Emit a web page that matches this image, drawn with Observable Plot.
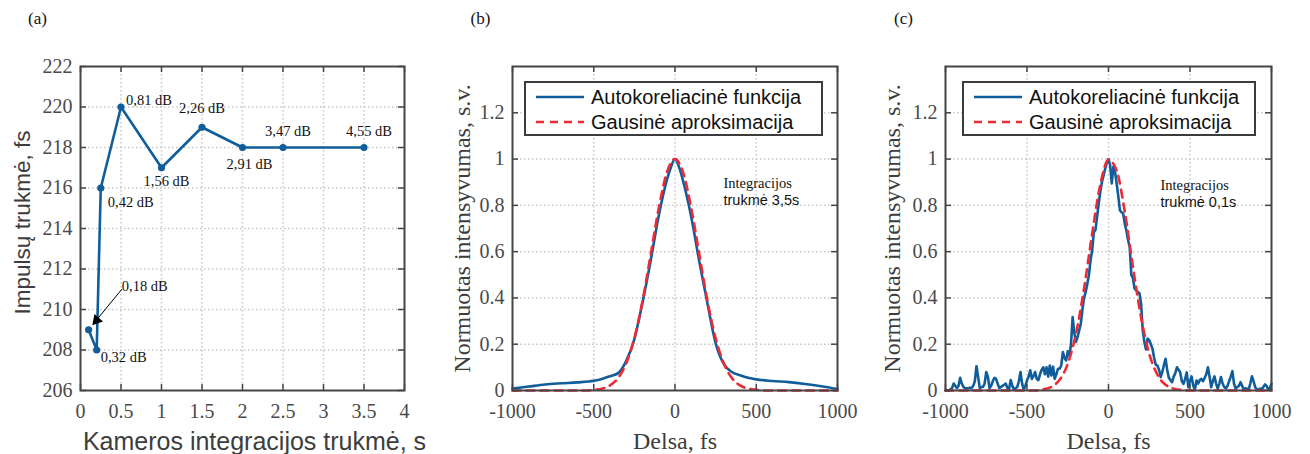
<!DOCTYPE html>
<html>
<head>
<meta charset="utf-8">
<script src="https://cdn.jsdelivr.net/npm/d3@7"></script>
<script src="https://cdn.jsdelivr.net/npm/@observablehq/plot@0.6"></script>
<style>
  html, body { margin: 0; padding: 0; background: #fff; }
  body { width: 1310px; height: 454px; position: relative; overflow: hidden; }
  .panel { position: absolute; top: 0; }
  .legend { position: absolute; border: 2px solid #3c3c3c; background: #fff; box-sizing: border-box;
            font-family: "Liberation Sans", Arial, sans-serif; font-size: 20px; color: #111; }
  .legend .row { position: absolute; left: 0; right: 0; height: 24px; line-height: 24px; }
  .legend svg { position: absolute; left: 10px; top: 10px; }
  .legend span { position: absolute; left: 65px; top: 0; white-space: nowrap; }
</style>
</head>
<body>
<script>
// ---------- Panel (a) data ----------
const integTime = [0.1, 0.2, 0.25, 0.5, 1, 1.5, 2, 2.5, 3.5];
const pulseDur  = [209, 208, 216, 220, 217, 219, 218, 218, 218];
const snrLabels = ["0,18 dB", "0,32 dB", "0,42 dB", "0,81 dB", "1,56 dB", "2,26 dB", "2,91 dB", "3,47 dB", "4,55 dB"];
const arrowTail = {x: 0.51, y: 211.0};   // annotation anchor of the "0,18 dB" callout
const xTicksA = [0, 0.5, 1, 1.5, 2, 2.5, 3, 3.5, 4];
const yTicksA = [206, 208, 210, 212, 214, 216, 218, 220, 222];

// ---------- Panel (b) data : integration time 3.5 s ----------
const delaysB = [-1000, -900, -800, -700, -600, -500, -450, -400, -350, -300, -250, -200, -150, -100, -50, -25, 0,
                 25, 50, 100, 150, 200, 250, 300, 350, 400, 450, 500, 600, 700, 800, 900, 1000];
const autoB   = [0.008, 0.017, 0.026, 0.031, 0.035, 0.042, 0.05, 0.062, 0.075, 0.128, 0.222, 0.38, 0.56, 0.755, 0.91, 0.965, 1.0,
                 0.965, 0.905, 0.75, 0.555, 0.375, 0.205, 0.115, 0.08, 0.066, 0.055, 0.048, 0.041, 0.036, 0.028, 0.018, 0.006];
const gaussDelays = [-1000, -950, -900, -850, -800, -750, -700, -650, -600, -550,
                     -500, -450, -400, -350, -300, -250, -200, -150, -100, -50, 0,
                     50, 100, 150, 200, 250, 300, 350, 400, 450, 500,
                     550, 600, 650, 700, 750, 800, 850, 900, 950, 1000];
const gaussB = [0, 0, 0, 0, 0, 0, 0, 0, 0, 0,
                0.003, 0.008, 0.022, 0.054, 0.118, 0.226, 0.386, 0.586, 0.788, 0.942, 1,
                0.942, 0.788, 0.586, 0.386, 0.226, 0.118, 0.054, 0.022, 0.008, 0.003,
                0, 0, 0, 0, 0, 0, 0, 0, 0, 0];

// ---------- Panel (c) data : integration time 0.1 s (samples every 10 fs from -1000 to 1000) ----------
const delaysC = d3.range(-1000, 1001, 10);
const autoC = [
  0, 0, 0, 0.005, 0.01, 0.03, 0.02, 0.01, 0.02, 0.055,
  0.03, 0.015, 0.01, 0.01, 0.01, 0.012, 0.01, 0.02, 0.04, 0.105,
  0.06, 0.01, 0.015, 0.015, 0.03, 0.08, 0.06, 0.01, 0.02, 0.04,
  0.055, 0.05, 0.03, 0.01, 0.015, 0.02, 0.025, 0.03, 0.01, 0.005,
  0.045, 0.02, 0.005, 0.01, 0.015, 0.04, 0.08, 0.03, 0.005, 0.02,
  0.043, 0.06, 0.087, 0.05, 0.062, 0.08, 0.05, 0.045, 0.07, 0.09,
  0.1, 0.07, 0.1, 0.06, 0.108, 0.065, 0.103, 0.05, 0.07, 0.094,
  0.094, 0.108, 0.166, 0.14, 0.13, 0.17, 0.15, 0.2, 0.317, 0.25,
  0.21, 0.23, 0.26, 0.288, 0.35, 0.4, 0.426, 0.46, 0.5, 0.563,
  0.606, 0.685, 0.693, 0.75, 0.808, 0.86, 0.902, 0.93, 0.96, 0.985,
  1.0, 0.974, 0.895, 0.967, 0.945, 0.895, 0.84, 0.779, 0.77, 0.765,
  0.72, 0.69, 0.65, 0.62, 0.5, 0.485, 0.44, 0.433, 0.426, 0.42,
  0.375, 0.26, 0.21, 0.177, 0.224, 0.217, 0.2, 0.18, 0.14, 0.112,
  0.108, 0.09, 0.058, 0.08, 0.11, 0.137, 0.09, 0.055, 0.045, 0.036,
  0.06, 0.075, 0.1, 0.09, 0.078, 0.04, 0.029, 0.05, 0.078, 0.014,
  0.04, 0.061, 0.02, 0.003, 0.043, 0.03, 0.045, 0.05, 0.04, 0.055,
  0.07, 0.1, 0.06, 0.014, 0.04, 0.061, 0.03, 0.008, 0.03, 0.058,
  0.03, 0.015, 0.008, 0.02, 0.04, 0.06, 0.084, 0.03, 0.008, 0.015,
  0.02, 0.036, 0.02, 0.003, 0.01, 0.008, 0.005, 0.03, 0.061, 0.04,
  0.014, 0.005, 0.003, 0.008, 0.005, 0.015, 0.026, 0.02, 0.003, 0.01,
  0.03
];
const gaussC = [0, 0, 0, 0, 0, 0, 0, 0, 0, 0, 0, 0,
                0.005, 0.016, 0.046, 0.115, 0.244, 0.441, 0.679, 0.891, 0.997,
                0.95, 0.772, 0.534, 0.315, 0.159, 0.068, 0.025, 0.008, 0.002,
                0, 0, 0, 0, 0, 0, 0, 0, 0, 0, 0];

const xTicksBC = [-1000, -500, 0, 500, 1000];
const yTicksBC = [0, 0.2, 0.4, 0.6, 0.8, 1, 1.2];
const legendNames = ["Autokoreliacinė funkcija", "Gausinė aproksimacija"];

// ---------- styles ----------
const blue = "#0f5e9b", red = "#ee2a35";
const serif = "'Liberation Serif','Times New Roman',serif";
const sans = "'Liberation Sans',Arial,sans-serif";
const gridStyle = {stroke: "#c6c6c6", strokeOpacity: 1, strokeWidth: 1.5, strokeDasharray: "1.5,2.5"};
const tickStyle = {stroke: "#454545", strokeWidth: 1.5};
const fmt = d => String(d);

function panel(o) {
  const height = 454, mt = 66, mb = 64;
  const innerW = o.width - o.ml - o.mr, innerH = height - mt - mb;
  const tickText = {fontFamily: serif, fontSize: 20, fill: "#4a4a4a", label: null, tickFormat: fmt, tickSize: 0};
  const chart = Plot.plot({
    width: o.width, height,
    marginLeft: o.ml, marginRight: o.mr, marginTop: mt, marginBottom: mb,
    style: {background: "transparent", overflow: "visible"},
    x: {domain: o.xDomain},
    y: {domain: o.yDomain},
    marks: [
      Plot.gridX(o.xGrid, gridStyle),
      Plot.gridY(o.yGrid, gridStyle),
      ...o.marks,
      Plot.tickX(o.xTicks, {x: d => d, insetTop: innerH - 6, ...tickStyle}),
      Plot.tickX(o.xTicks, {x: d => d, insetBottom: innerH - 6, ...tickStyle}),
      Plot.tickY(o.yTicks, {y: d => d, insetRight: innerW - 6, ...tickStyle}),
      Plot.tickY(o.yTicks, {y: d => d, insetLeft: innerW - 6, ...tickStyle}),
      Plot.axisX(o.xTicks, {anchor: "bottom", tickPadding: 13, ...tickText}),
      Plot.axisY(o.yTicks, {anchor: "left", tickPadding: 8, ...tickText}),
      Plot.text([o.yTitle], {frameAnchor: "left", rotate: -90, dx: o.yTitleDx, dy: o.yTitleDy || 0, text: d => d,
        fontFamily: o.titleFont, fontSize: o.yTitleSize, fill: "#3d3d3d", textAnchor: "middle", lineAnchor: "middle"}),
      Plot.text([o.xTitle], {frameAnchor: "bottom", dx: o.xTitleDx || 0, dy: 51, text: d => d,
        fontFamily: o.titleFont, fontSize: o.xTitleSize, fill: "#3d3d3d", textAnchor: "middle", lineAnchor: "middle"}),
      Plot.text([o.tag], {frameAnchor: "top-left", dx: o.tagDx, dy: -48, text: d => d,
        fontFamily: serif, fontSize: 17, fill: "#111", textAnchor: "middle", lineAnchor: "middle"}),
      Plot.frame({stroke: "#454545", strokeWidth: 2})
    ]
  });
  const div = document.createElement("div");
  div.className = "panel";
  div.style.left = o.left + "px";
  div.style.width = o.width + "px";
  div.appendChild(chart);
  document.body.appendChild(div);
}

function legend(left, top, width) {
  const box = document.createElement("div");
  box.className = "legend";
  Object.assign(box.style, {left: left + "px", top: top + "px", width: width + "px", height: "55px"});
  legendNames.forEach((name, i) => {
    const row = document.createElement("div");
    row.className = "row";
    row.style.top = (i === 0 ? 2 : 27) + "px";
    const dash = i === 0 ? "" : ' stroke-dasharray="8,6"';
    const col = i === 0 ? blue : red;
    row.innerHTML = `<svg width="50" height="4"><line x1="0" y1="2" x2="48" y2="2" stroke="${col}" stroke-width="2.5"${dash}/></svg><span>${name}</span>`;
    box.appendChild(row);
  });
  document.body.appendChild(box);
}

// ---------- Panel (a) ----------
const place = [null, [4, 7, "start"], [7, 14, "start"], [5, -7, "start"], [5, 14, "middle"],
               [0, -19, "middle"], [7, 17, "middle"], [5, -16, "middle"], [5, -16, "middle"]];
const labelMarks = place.map((p, i) => p && Plot.text([i], {
  x: j => integTime[j], y: j => pulseDur[j], text: j => snrLabels[j],
  dx: p[0], dy: p[1], textAnchor: p[2], fontFamily: serif, fontSize: 14.5, fill: "#111"
})).filter(Boolean);

panel({
  left: 0, width: 430, ml: 80, mr: 26,
  xDomain: [0, 4], yDomain: [206, 222],
  xTicks: xTicksA, yTicks: yTicksA,
  xGrid: xTicksA.slice(1, -1), yGrid: yTicksA.slice(1, -1),
  titleFont: sans,
  yTitle: "Impulsų trukmė, fs", yTitleSize: 22.5, yTitleDx: -58, yTitleDy: -6,
  xTitle: "Kameros integracijos trukmė, s", xTitleSize: 25, xTitleDx: 12,
  tag: "(a)", tagDx: -43,
  marks: [
    Plot.line(integTime, {x: integTime, y: pulseDur, stroke: blue, strokeWidth: 2.6}),
    Plot.dot(integTime, {x: integTime, y: pulseDur, r: 3.6, fill: blue}),
    ...labelMarks,
    Plot.arrow([0], {x1: () => arrowTail.x, y1: () => arrowTail.y, x2: i => integTime[i], y2: i => pulseDur[i],
      insetEnd: 14, headLength: 0, stroke: "#000", strokeWidth: 1}),
    Plot.dot([0], {x: i => integTime[i], y: i => pulseDur[i], symbol: "triangle", r: 4.2, fill: "#000",
      rotate: -139.5, dx: 8, dy: -9.5}),
    Plot.text([0], {x: () => arrowTail.x, y: () => arrowTail.y, text: i => snrLabels[i], dx: 0, dy: -3,
      textAnchor: "start", fontFamily: serif, fontSize: 14.5, fill: "#111"})
  ]
});

// ---------- Panels (b) and (c) ----------
function annot(dx, dy, secondLine) {
  return [
    Plot.text(["Integracijos"], {frameAnchor: "top-left", dx, dy, text: d => d, textAnchor: "start", lineAnchor: "middle",
      fontFamily: serif, fontSize: 14.5, fill: "#111"}),
    Plot.text([secondLine], {frameAnchor: "top-left", dx, dy: dy + 16.5, text: d => d, textAnchor: "start", lineAnchor: "middle",
      fontFamily: sans, fontSize: 14.5, fill: "#111"})
  ];
}

panel({
  left: 430, width: 430, ml: 82, mr: 23,
  xDomain: [-1000, 1000], yDomain: [0, 1.4],
  xTicks: xTicksBC, yTicks: yTicksBC,
  xGrid: [-500, 0, 500], yGrid: yTicksBC.slice(1),
  titleFont: serif,
  yTitle: "Normuotas intensyvumas, s.v.", yTitleSize: 24, yTitleDx: -50,
  xTitle: "Delsa, fs", xTitleSize: 24,
  tag: "(b)", tagDx: -32,
  marks: [
    Plot.line(delaysB, {x: delaysB, y: autoB, stroke: blue, strokeWidth: 2.6, curve: "monotone-x"}),
    Plot.line(gaussDelays, {x: gaussDelays, y: gaussB, stroke: red, strokeWidth: 2.6, strokeDasharray: "8,6", curve: "monotone-x"}),
    ...annot(211, 117, "trukmė 3,5s")
  ]
});

panel({
  left: 860, width: 450, ml: 85, mr: 39,
  xDomain: [-1000, 1000], yDomain: [0, 1.4],
  xTicks: xTicksBC, yTicks: yTicksBC,
  xGrid: [-500, 0, 500], yGrid: yTicksBC.slice(1),
  titleFont: serif,
  yTitle: "Normuotas intensyvumas, s.v.", yTitleSize: 24, yTitleDx: -53,
  xTitle: "Delsa, fs", xTitleSize: 24,
  tag: "(c)", tagDx: -42,
  marks: [
    Plot.line(delaysC, {x: delaysC, y: autoC, stroke: blue, strokeWidth: 2.6}),
    Plot.line(gaussDelays, {x: gaussDelays, y: gaussC, stroke: red, strokeWidth: 2.6, strokeDasharray: "8,6", curve: "monotone-x"}),
    ...annot(215, 119, "trukmė 0,1s")
  ]
});

legend(524, 81, 299);
legend(962, 81, 294);
</script>
</body>
</html>
